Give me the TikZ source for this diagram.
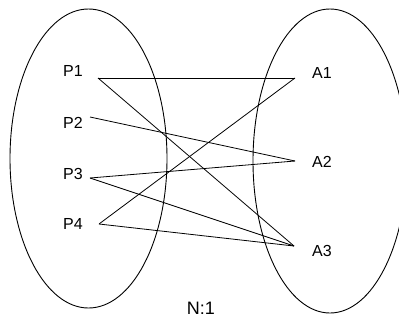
\documentclass[tikz,border=0pt]{standalone}
\usepackage{fontspec}
\setmainfont{Liberation Sans}

\begin{document}
\begin{tikzpicture}[x=1pt,y=-1pt,
  set/.style={black,line width=0.9pt},
  link/.style={black,line width=0.8pt},
  lbl/.style={black,inner sep=0pt,font=\fontsize{16}{18}\selectfont},
  ratio/.style={black,inner sep=0pt,font=\fontsize{18}{20}\selectfont}]
  \useasboundingbox[fill=white] (0,0) rectangle (399,322);
  % the two sets
  \draw[set] (88.5,158.5) ellipse [x radius=78.5pt,y radius=149.5pt];
  \draw[set] (330,161) ellipse [x radius=77pt,y radius=152pt];
  % labels
  \node[lbl] (lblP1) at (73,71) {P1};
  \node[lbl] (lblP2) at (73,123) {P2};
  \node[lbl] (lblP3) at (73,174) {P3};
  \node[lbl] (lblP4) at (73,224) {P4};
  \node[lbl] (lblA1) at (322,73) {A1};
  \node[lbl] (lblA2) at (322,162) {A2};
  \node[lbl] (lblA3) at (322,251) {A3};
  \node[ratio] (lblRatio) at (201,308) {N:1};
  % line ends
  \coordinate (p1) at (98,78);
  \coordinate (p2) at (90,117);
  \coordinate (p3) at (90,178);
  \coordinate (p4) at (99,224);
  \coordinate (a1) at (295,78);
  \coordinate (a2) at (295,161);
  \coordinate (a3) at (294,246);
  % mapping
  \foreach \s/\t in {p1/a1,p1/a3,p2/a2,p3/a2,p3/a3,p4/a1,p4/a3}
    \draw[link] (\s) -- (\t);
\end{tikzpicture}
\end{document}
